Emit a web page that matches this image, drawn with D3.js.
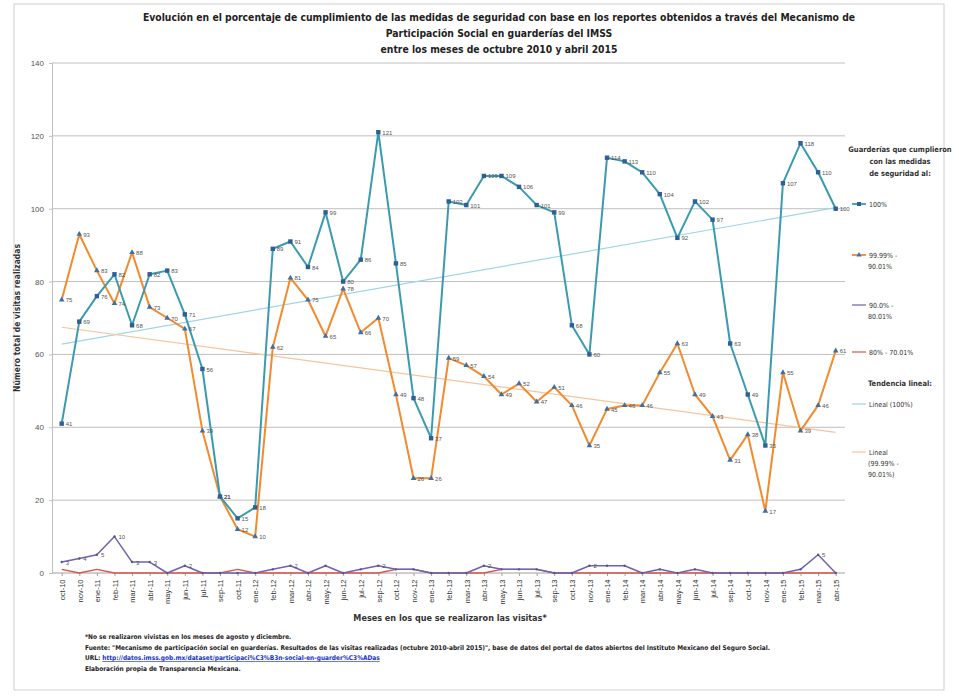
<!DOCTYPE html>
<html><head><meta charset="utf-8">
<script src="https://cdn.jsdelivr.net/npm/d3@7"></script>
<style>
body{margin:0;background:#fff;}
svg{display:block;font-family:"Liberation Sans Narrow","DejaVu Sans Condensed","Liberation Sans",sans-serif;}
</style></head>
<body><svg id="c" width="959" height="696"></svg>
<script>
const categories = ["oct-10","nov-10","ene-11","feb-11","mar-11","abr-11","may-11","jun-11","jul-11","sep-11","oct-11","ene-12","feb-12","mar-12","abr-12","may-12","jun-12","jul-12","sep-12","oct-12","nov-12","ene-13","feb-13","mar-13","abr-13","may-13","jun-13","jul-13","sep-13","oct-13","nov-13","ene-14","feb-14","mar-14","abr-14","may-14","jun-14","jul-14","sep-14","oct-14","nov-14","ene-15","feb-15","mar-15","abr-15"];
const s100 = [41,69,76,82,68,82,83,71,56,21,15,18,89,91,84,99,80,86,121,85,48,37,102,101,109,109,106,101,99,68,60,114,113,110,104,92,102,97,63,49,35,107,118,110,100];
const s90 = [75,93,83,74,88,73,70,67,39,21,12,10,62,81,75,65,78,66,70,49,26,26,59,57,54,49,52,47,51,46,35,45,46,46,55,63,49,43,31,38,17,55,39,46,61];
const s80 = [3,4,5,10,3,3,0,2,0,0,0,0,1,2,0,2,0,1,2,1,1,0,0,0,2,1,1,1,0,0,2,2,2,0,1,0,1,0,0,0,0,0,1,5,0];
const s70 = [1,0,1,0,0,0,0,0,0,0,1,0,0,0,0,0,0,0,0,1,1,0,0,0,0,1,1,1,0,0,0,0,0,0,0,0,0,0,0,0,0,0,0,0,0];
const yTicks = [0,20,40,60,80,100,120,140];
const titleLines = ["Evolución en el porcentaje de cumplimiento de las medidas de seguridad con base en los reportes obtenidos a través del Mecanismo de","Participación Social en guarderías del IMSS","entre los meses de octubre 2010 y abril 2015"];
const notes = ["*No se realizaron vivistas en los meses de agosto y diciembre.","Fuente: \"Mecanismo de participación social en guarderías. Resultados de las visitas realizadas (octubre 2010-abril 2015)\", base de datos del portal de datos abiertos del Instituto Mexicano del Seguro Social.","URL: ","Elaboración propia de Transparencia Mexicana."];
const url = "http://datos.imss.gob.mx/dataset/participaci%C3%B3n-social-en-guarder%C3%ADas";

const svg = d3.select("#c");
svg.append("rect").attr("x",14).attr("y",4).attr("width",930).attr("height",686).attr("fill","#fff").attr("stroke","#d0d0d0").attr("stroke-width",1);

const x = d3.scalePoint().domain(categories).range([61.7,835.7]);
const y = d3.scaleLinear().domain([0,140]).range([573,63]);
const L=52,R=845;

svg.append("g").selectAll("line").data(yTicks.filter(d=>d>0)).join("line")
  .attr("x1",L).attr("x2",R).attr("y1",d=>y(d)).attr("y2",d=>y(d))
  .attr("stroke","#bfbfbf").attr("stroke-width",1);

const ya = svg.append("g").attr("transform",`translate(${L},0)`)
  .call(d3.axisLeft(y).tickValues(yTicks).tickSize(3).tickPadding(5));
ya.select(".domain").attr("stroke","#bfbfbf");
ya.selectAll(".tick line").attr("stroke","#bfbfbf");
ya.selectAll("text").attr("font-size","8px").attr("fill","#555").attr("font-family","Liberation Sans, sans-serif");

const xa = svg.append("g").attr("transform",`translate(0,${y(0)})`)
  .call(d3.axisBottom(x).tickSize(3).tickPadding(4));
xa.select(".domain").attr("d",`M${L},0H${R}`).attr("stroke","#a0a0a0");
xa.selectAll(".tick line").attr("stroke","#a0a0a0");
xa.selectAll("text").attr("font-size","7.5px").attr("fill","#333")
  .attr("transform","rotate(-90)").attr("text-anchor","end").attr("dx","-0.6em").attr("dy","0.1em").attr("y",0).attr("x",-2)
  .style("dominant-baseline","middle");

function fit(arr){const n=arr.length;let sx=0,sy=0,sxy=0,sxx=0;arr.forEach((v,i)=>{sx+=i;sy+=v;sxy+=i*v;sxx+=i*i;});const b=(n*sxy-sx*sy)/(n*sxx-sx*sx);const a=(sy-b*sx)/n;return [a,a+b*(n-1)];}
const t100=fit(s100), t90=fit(s90);
svg.append("line").attr("x1",x(categories[0])).attr("x2",x(categories[categories.length-1])).attr("y1",y(t100[0])).attr("y2",y(t100[1])).attr("stroke","#9fd6e6").attr("stroke-width",1.2);
svg.append("line").attr("x1",x(categories[0])).attr("x2",x(categories[categories.length-1])).attr("y1",y(t90[0])).attr("y2",y(t90[1])).attr("stroke","#f8c49c").attr("stroke-width",1.2);

const line = d3.line().x((d,i)=>x(categories[i])).y(d=>y(d));
function drawSeries(data,color,w){svg.append("path").datum(data).attr("d",line).attr("fill","none").attr("stroke",color).attr("stroke-width",w).attr("stroke-linejoin","round");}
drawSeries(s70,"#d9534f",1.3);
drawSeries(s80,"#6f62b0",1.5);
drawSeries(s90,"#f28a2e",2);
drawSeries(s100,"#3a9bb0",2);

svg.append("g").selectAll("circle").data(s80).join("circle").attr("cx",(d,i)=>x(categories[i])).attr("cy",d=>y(d)).attr("r",1.2).attr("fill","#555a80");
const tri=d3.symbol().type(d3.symbolTriangle).size(14);
svg.append("g").selectAll("path").data(s90).join("path").attr("d",tri).attr("transform",(d,i)=>`translate(${x(categories[i])},${y(d)})`).attr("fill","#3d6fa8");
svg.append("g").selectAll("rect").data(s100).join("rect").attr("x",(d,i)=>x(categories[i])-2.2).attr("y",d=>y(d)-2.2).attr("width",4.4).attr("height",4.4).attr("fill","#2e5f96");

function labels(data,filter){svg.append("g").selectAll("text").data(data.map((v,i)=>({v,i})).filter(filter)).join("text")
  .attr("x",d=>x(categories[d.i])+4).attr("y",d=>y(d.v)+2.5).attr("font-size","6px").attr("fill","#555").attr("font-family","Liberation Sans, sans-serif").text(d=>d.v);}
labels(s100,()=>true);
labels(s90,()=>true);
labels(s80,d=>d.v>=3||d.i===7||d.i===13||d.i===18||d.i===24||d.i===30);

svg.append("g").selectAll("text").data(titleLines).join("text")
  .attr("x",499).attr("y",(d,i)=>21+i*16).attr("text-anchor","middle").attr("font-size","10.3px").attr("font-weight","bold").attr("fill","#222").text(d=>d);

svg.append("text").attr("transform","translate(20,318) rotate(-90)").attr("text-anchor","middle").attr("font-size","8.5px").attr("font-weight","bold").attr("fill","#333").text("Número total de visitas realizadas");
svg.append("text").attr("x",450).attr("y",621).attr("text-anchor","middle").attr("font-size","9px").attr("font-weight","bold").attr("fill","#333").text("Meses en los que se realizaron las visitas*");

const lg = svg.append("g").attr("font-size","7.5px").attr("fill","#333");
[["Guarderías que cumplieron",152],["con las medidas",164],["de seguridad al:",176]].forEach(([t,yy])=>lg.append("text").attr("x",900).attr("y",yy).attr("text-anchor","middle").attr("font-weight","bold").text(t));
function legItem(yy,color,textLines,marker){
  lg.append("line").attr("x1",852).attr("x2",866).attr("y1",yy).attr("y2",yy).attr("stroke",color).attr("stroke-width",marker?1.8:1.2);
  if(marker==="sq") lg.append("rect").attr("x",857).attr("y",yy-2).attr("width",4).attr("height",4).attr("fill","#2e5f96");
  if(marker==="tri") lg.append("path").attr("d",d3.symbol().type(d3.symbolTriangle).size(12)()).attr("transform",`translate(859,${yy})`).attr("fill","#3d6fa8");
  textLines.forEach((t,i)=>lg.append("text").attr("x",i===0?869:868).attr("y",yy+2.5+i*11).attr("font-size","7px").text(t));
}
legItem(204,"#3a9bb0",["100%"],"sq");
legItem(255,"#f28a2e",["99.99% -","90.01%"],"tri");
legItem(305,"#6f62b0",["90.0% -","80.01%"],null);
legItem(352,"#d9534f",["80% - 70.01%"],null);
lg.append("text").attr("x",900).attr("y",386).attr("text-anchor","middle").attr("font-weight","bold").text("Tendencia lineal:");
legItem(404,"#9fd6e6",["Lineal (100%)"],null);
legItem(452,"#f8c49c",["Lineal","(99.99% -","90.01%)"],null);

const ng = svg.append("g").attr("font-size","6.5px").attr("font-weight","bold").attr("fill","#222");
notes.forEach((t,i)=>{
  const tx = ng.append("text").attr("x",85).attr("y",639+i*10.5).text(t);
  if(i===2) tx.append("tspan").attr("fill","#1a33cc").attr("text-decoration","underline").text(url);
});
</script></body></html>
